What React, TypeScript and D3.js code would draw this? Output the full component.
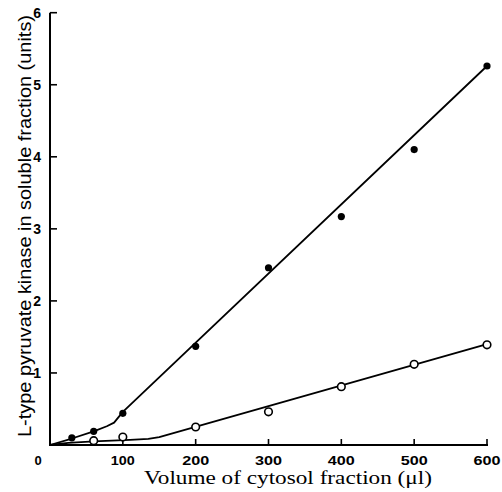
import React from "react";
import * as d3 from "d3";

const W = 502, H = 492;
const xTicks = [0, 100, 200, 300, 400, 500, 600];
const yTicks = [1, 2, 3, 4, 5, 6];

// filled circles
const filledX = [30, 60, 100, 200, 300, 400, 500, 600];
const filledY = [0.1, 0.19, 0.44, 1.37, 2.46, 3.17, 4.1, 5.26];
// open circles
const openX = [60, 100, 200, 300, 400, 500, 600];
const openY = [0.06, 0.11, 0.25, 0.46, 0.81, 1.12, 1.39];

// hand-drawn fitted curves
const filledLineX = [0, 30, 60, 78, 88, 100, 600];
const filledLineY = [0, 0.09, 0.19, 0.26, 0.31, 0.46, 5.26];
const openLineX = [0, 25, 60, 110, 135, 150, 600];
const openLineY = [0, 0.03, 0.05, 0.07, 0.085, 0.11, 1.4];

const xTitle = "Volume of cytosol fraction (\u03bcl)";
const yTitle = "L-type pyruvate kinase in soluble fraction (units)";

export default function App() {
  const x = d3.scaleLinear().domain([0, 600]).range([50, 487]);
  const y = d3.scaleLinear().domain([0, 6]).range([445, 12.7]);
  const line = d3
    .line<[number, number]>()
    .x((d) => x(d[0]))
    .y((d) => y(d[1]))
    .curve(d3.curveLinear);
  const fl = filledLineX.map((v, i) => [v, filledLineY[i]] as [number, number]);
  const ol = openLineX.map((v, i) => [v, openLineY[i]] as [number, number]);
  const tickFont = "Liberation Sans, Arial, sans-serif";
  const titleFont = "Liberation Serif, Times New Roman, serif";
  return (
    <svg width={W} height={H} style={{ position: "absolute", left: 0, top: 0, background: "#fff" }}>
      {/* axes */}
      <line x1={x(0)} x2={x(0)} y1={y(6)} y2={y(0) + 1} stroke="#000" strokeWidth={2} />
      <line x1={x(0) - 1} x2={x(600) + 1} y1={y(0)} y2={y(0)} stroke="#000" strokeWidth={2} />
      {yTicks.map((t) => (
        <g key={"y" + t}>
          <line x1={x(0)} x2={x(0) + 7} y1={y(t)} y2={y(t)} stroke="#000" strokeWidth={1.6} />
          <text x={41} y={y(t)} dy="0.36em" textAnchor="end" fontFamily={tickFont} fontWeight="bold" fontSize={14}>
            {t}
          </text>
        </g>
      ))}
      {xTicks.map((t) => (
        <g key={"x" + t}>
          {t > 0 && <line x1={x(t)} x2={x(t)} y1={y(0)} y2={y(0) - 6} stroke="#000" strokeWidth={1.6} />}
          <text
            x={t === 0 ? 38 : x(t)}
            y={465}
            textAnchor="middle"
            fontFamily={tickFont}
            fontWeight="bold"
            fontSize={13}
            {...(t === 0 ? {} : { textLength: t === 100 ? 24 : 27, lengthAdjust: "spacingAndGlyphs" })}
          >
            {t}
          </text>
        </g>
      ))}
      {/* lines */}
      <path d={line(fl) || ""} fill="none" stroke="#000" strokeWidth={1.8} strokeLinejoin="round" />
      <path d={line(ol) || ""} fill="none" stroke="#000" strokeWidth={1.8} strokeLinejoin="round" />
      {/* points */}
      {filledX.map((v, i) => (
        <circle key={"f" + i} cx={x(v)} cy={y(filledY[i])} r={3.6} fill="#000" />
      ))}
      {openX.map((v, i) => (
        <circle key={"o" + i} cx={x(v)} cy={y(openY[i])} r={3.8} fill="#fff" stroke="#000" strokeWidth={1.6} />
      ))}
      {/* titles */}
      <text
        x={144}
        y={484}
        fontFamily={titleFont}
        fontSize={18}
        textLength={288}
        lengthAdjust="spacingAndGlyphs"
      >
        {xTitle}
      </text>
      <text
        transform={`translate(30.5,437) rotate(-90)`}
        fontFamily={tickFont}
        fontSize={18}
        textLength={422}
        lengthAdjust="spacingAndGlyphs"
      >
        {yTitle}
      </text>
    </svg>
  );
}
